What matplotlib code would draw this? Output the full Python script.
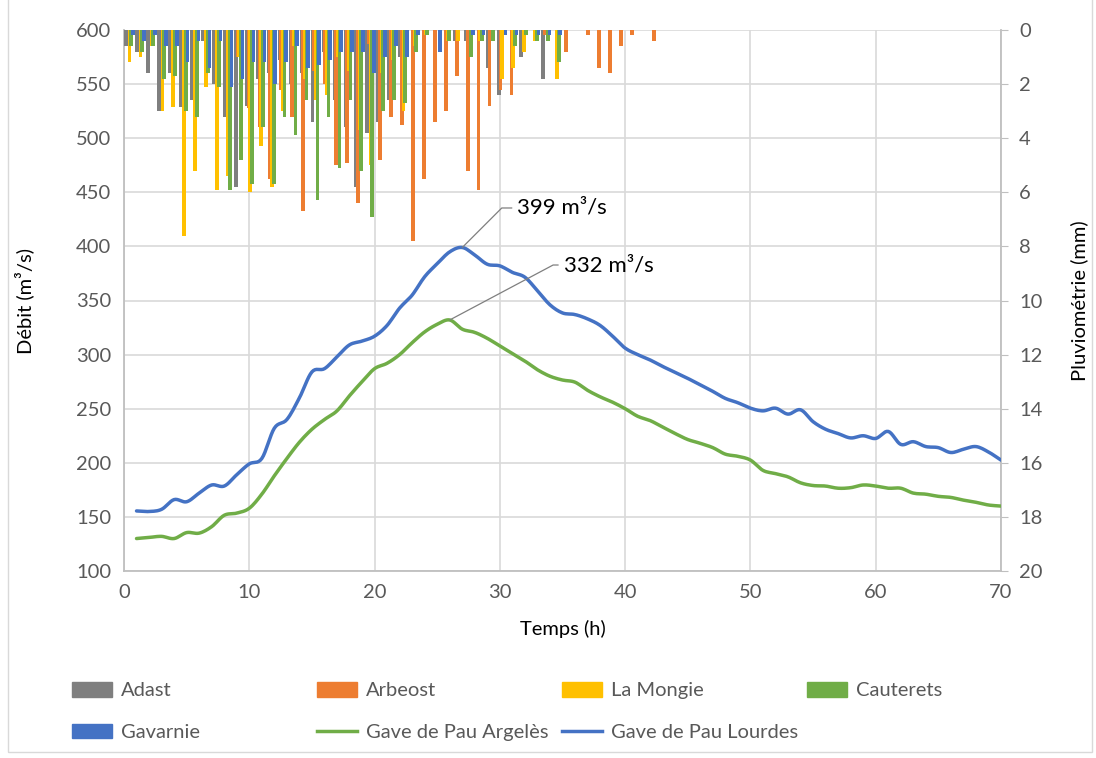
import numpy as np
import matplotlib
matplotlib.use('Agg')
import matplotlib.pyplot as plt
from matplotlib.patches import Patch, Rectangle
from matplotlib.lines import Line2D

plt.rcParams['font.family'] = ['Lato', 'DejaVu Sans']

# débits horaires (m3/s), heures 1 à 70
heures = np.arange(1, 71)
lourdes = [155.5, 155, 157, 166, 164, 172, 179.5, 178.5, 189, 199,
           204, 232, 240, 260, 284, 287, 298, 309, 312.5, 317,
           327, 343, 355, 372, 384, 395, 399, 392, 383.5, 382,
           376, 371.5, 359, 346, 338.5, 337, 333, 327, 317, 306,
           300, 295, 289, 283.5, 278, 272, 266, 259.5, 255.5, 250.5,
           248, 250.5, 245, 249, 238, 231, 227, 223, 225, 222.5,
           229, 217, 219.5, 215, 214, 209.5, 212.5, 215, 210, 202.5]
argeles = [130, 131, 132, 130, 135.5, 135, 141, 151.5, 153.5, 158,
           171, 188, 204, 219, 231, 240, 248, 262, 275, 287,
           292, 300, 311, 321, 328, 332, 323.5, 320.5, 315, 308,
           301, 294, 286, 280, 276.5, 274.5, 267, 261, 256, 250,
           243, 239, 233, 227, 221.5, 218, 214, 208, 206, 202.5,
           193, 190, 187, 181.5, 179, 178.5, 176.5, 177, 179.5, 178.5,
           176.5, 176.5, 172, 171, 169, 168, 165.5, 163.5, 161, 160]

# pluie par pas de temps (mm)
nb_pas = 80
adast = [0.6, 0.8, 1.6, 3.0, 1.6, 2.85, 2.6, 0.4, 2.0, 3.2,
         5.8, 2.8, 1.8, 1.6, 1.1, 2.0, 1.6, 3.4, 0.8, 2.6,
         3.6, 5.8, 3.8, 3.4, 2.6, 1.0, 0, 0, 0, 0,
         0.4, 0.4, 0, 1.4, 2.4, 0, 1.0, 0, 1.8, 0,
         0, 0, 0, 0, 0, 0, 0, 0, 0]
arbeost = [0, 0, 0, 0, 0, 0, 0, 0, 0, 0,
           1.0, 2.9, 3.6, 5.5, 2.2, 3.2, 6.7, 1.5, 2.0, 5.0,
           4.9, 6.4, 0.5, 4.8, 3.2, 3.5, 7.8, 5.5, 3.4, 3.0,
           1.7, 5.2, 5.9, 2.8, 2.2, 2.4, 0, 0, 0.2, 0,
           0.8, 0, 0.2, 1.4, 1.6, 0.6, 0.2, 0, 0.4]
la_mongie = [1.2, 1.0, 0.6, 3.0, 2.85, 7.6, 5.2, 2.1, 5.9, 5.4,
             1.0, 6.0, 4.3, 5.8, 3.0, 0.6, 1.8, 2.6, 2.4, 1.0,
             1.5, 3.7, 5.0, 1.6, 1.1, 3.0, 0.6, 0.2, 0, 0.4,
             0.4, 0, 0.4, 0, 1.8, 1.4, 0.8, 0.4, 0, 1.8,
             0, 0, 0, 0, 0, 0, 0, 0, 0]
cauterets = [0.6, 0.8, 0.6, 1.8, 1.7, 3.0, 3.2, 1.6, 2.1, 5.9,
             4.8, 5.7, 3.6, 5.7, 3.2, 3.9, 2.6, 6.3, 3.2, 5.1,
             2.6, 5.2, 6.9, 3.0, 2.6, 2.7, 0.8, 0.2, 0, 0.4,
             0, 1.0, 0.4, 0.4, 0, 0.6, 0.2, 0.4, 0.4, 1.2,
             0, 0, 0, 0, 0, 0, 0, 0, 0]
gavarnie = [0.2, 0.4, 0.2, 0.6, 0.6, 1.2, 0.4, 1.4, 0.4, 2.1,
            1.8, 1.2, 1.2, 2.0, 1.2, 0.6, 1.4, 1.3, 1.1, 0.8,
            0.8, 0.8, 1.6, 1.0, 0.6, 1.0, 0.2, 0, 0.8, 0,
            0, 0.2, 0.2, 0, 0.2, 0.2, 0, 0.2, 0.2, 0.2,
            0, 0, 0, 0, 0, 0, 0, 0, 0]

stations = ['Adast', 'Arbeost', 'La Mongie', 'Cauterets', 'Gavarnie']
pluies = [adast, arbeost, la_mongie, cauterets, gavarnie]
couleurs = ['#7f7f7f', '#ed7d31', '#ffc000', '#70ad47', '#4472c4']
vert, bleu = '#70ad47', '#4472c4'
gris_txt = '#595959'
gris_axe = '#bfbfbf'
taille = 14.5


def lisse(x, y, n=8):
    # courbe lissée (Catmull-Rom) passant par les points mesurés
    x = np.asarray(x, float)
    y = np.asarray(y, float)
    px = np.concatenate([[2 * x[0] - x[1]], x, [2 * x[-1] - x[-2]]])
    py = np.concatenate([[2 * y[0] - y[1]], y, [2 * y[-1] - y[-2]]])
    t = np.linspace(0, 1, n, endpoint=False)[:, None]
    xs, ys = [], []
    for p in (px, py):
        p0, p1, p2, p3 = p[:-3], p[1:-2], p[2:-1], p[3:]
        c = 0.5 * ((2 * p1) + (-p0 + p2) * t + (2 * p0 - 5 * p1 + 4 * p2 - p3) * t ** 2
                   + (-p0 + 3 * p1 - 3 * p2 + p3) * t ** 3)
        (xs if p is px else ys).append(np.append(c.T.ravel(), p[-2]))
    return xs[0], ys[0]


fig = plt.figure(figsize=(10.96, 7.58), dpi=100)
rect = [124 / 1096, 1 - 571 / 758, 877 / 1096, 541 / 758]

# fond : grille, axe des débits et axe du temps
ax = fig.add_axes(rect, zorder=1)
ax.set_xlim(0, 70)
ax.set_ylim(100, 600)
ax.set_xticks(np.arange(0, 71, 10))
ax.set_yticks(np.arange(100, 601, 50))
ax.grid(True, color='#d9d9d9', lw=1.2)
ax.set_axisbelow(True)
for s in ['top', 'right']:
    ax.spines[s].set_visible(False)
for s in ['left', 'bottom']:
    ax.spines[s].set_color(gris_axe)
    ax.spines[s].set_linewidth(1.3)
ax.tick_params(length=0, labelsize=taille, labelcolor=gris_txt, pad=9)
ax.set_xlabel('Temps (h)', fontsize=taille, labelpad=14)
ax.set_ylabel('Débit (m³/s)', fontsize=taille, labelpad=30)

# histogrammes de pluie sur l'axe secondaire inversé
axb = fig.add_axes(rect, zorder=2)
axb.patch.set_visible(False)
axb.set_xlim(0, nb_pas)
axb.set_ylim(20, 0)
pas = np.arange(len(adast)) + 0.5
for i, (nom, pluie, c) in enumerate(zip(stations, pluies, couleurs)):
    axb.bar(pas + (i - 2) * 0.152, pluie, width=0.34, color=c, label=nom)
axb.set_xticks([])
axb.yaxis.tick_right()
axb.yaxis.set_label_position('right')
axb.set_yticks(np.arange(0, 21, 2))
axb.tick_params(axis='y', direction='out', length=5, color=gris_axe,
                labelsize=taille, labelcolor=gris_txt, pad=8)
for s in ['top', 'left', 'bottom']:
    axb.spines[s].set_visible(False)
axb.spines['right'].set_color(gris_axe)
axb.spines['right'].set_linewidth(1.3)
axb.set_ylabel('Pluviométrie (mm)', fontsize=taille, labelpad=20)

# hydrogrammes
axl = fig.add_axes(rect, zorder=3, sharex=ax, sharey=ax)
axl.axis('off')
axl.plot(*lisse(heures, argeles), color=vert, lw=2.5, solid_capstyle='round')
axl.plot(*lisse(heures, lourdes), color=bleu, lw=2.5, solid_capstyle='round')

i_l = int(np.argmax(lourdes))
i_a = int(np.argmax(argeles))
axl.annotate(f'{lourdes[i_l]:.0f} m³/s', xy=(heures[i_l], lourdes[i_l]),
             xytext=(31.4, 435.5), ha='left', va='center', fontsize=16,
             arrowprops=dict(arrowstyle='-', color='#7f7f7f', lw=0.9,
                             shrinkA=2, shrinkB=0, relpos=(0, 0.5),
                             connectionstyle='angle,angleA=0,angleB=45,rad=0'))
axl.annotate(f'{argeles[i_a]:.0f} m³/s', xy=(heures[i_a], argeles[i_a]),
             xytext=(35.1, 382.8), ha='left', va='center', fontsize=16,
             arrowprops=dict(arrowstyle='-', color='#7f7f7f', lw=0.9,
                             shrinkA=2, shrinkB=0, relpos=(0, 0.5),
                             connectionstyle='angle,angleA=0,angleB=28,rad=0'))

# légende en 4 colonnes à largeur fixe
h_barres = [Patch(color=c, label=n) for n, c in zip(stations, couleurs)]
h_courbes = [Line2D([], [], color=vert, lw=2.5, label='Gave de Pau Argelès'),
             Line2D([], [], color=bleu, lw=2.5, label='Gave de Pau Lourdes')]
colonnes = [[h_barres[0], h_barres[4]],
            [h_barres[1], h_courbes[0]],
            [h_barres[2], h_courbes[1]],
            [h_barres[3]]]
for k, hs in enumerate(colonnes):
    x0 = (72 + 245 * k) / 1096
    fig.legend(handles=hs, loc='upper left', bbox_to_anchor=(x0, 1 - 682 / 758),
               frameon=False, fontsize=taille, labelcolor=gris_txt,
               handlelength=2.0, handleheight=0.75, handletextpad=0.45,
               labelspacing=1.2, borderpad=0, borderaxespad=0)

# cadre du graphique
fig.patches.append(Rectangle((8 / 1096, 6 / 758), 1084 / 1096, 760 / 758,
                             transform=fig.transFigure, fill=False,
                             edgecolor='#d9d9d9', lw=1))

fig.savefig('out.png', dpi=100)
